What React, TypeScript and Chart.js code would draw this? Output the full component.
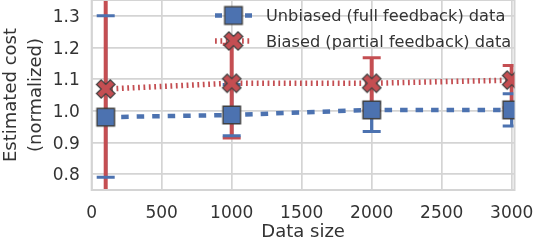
import React, { useEffect, useRef } from "react";
import { Chart, registerables } from "chart.js";

Chart.register(...registerables);

// ---- data ----
const dataSizes = [100, 1000, 2000, 3000];
const unbiasedCost = [0.98, 0.987, 1.003, 1.003];
const unbiasedLow = [0.79, 0.921, 0.935, 0.952];
const unbiasedHigh = [1.3, 1.083, 1.025, 1.054];
const biasedCost = [1.069, 1.087, 1.087, 1.097];
const biasedLow = [0.55, 0.914, 1.0, 1.01];
const biasedHigh = [1.55, 1.21, 1.168, 1.143];
const xTicks = [0, 500, 1000, 1500, 2000, 2500, 3000];
const yTicks = [0.8, 0.9, 1.0, 1.1, 1.2, 1.3];
const legendLabels = ["Unbiased (full feedback) data", "Biased (partial feedback) data"];
const xTitle = "Data size";
const yTitle = ["Estimated cost", "(normalized)"];

// ---- styles ----
const BLUE = "#4C72B0";
const RED = "#C44E52";
const EDGE = "#404040";
const GRID = "#d4d4d4";
const TEXT = "#333333";
const FONT = "'DejaVu Sans', 'Liberation Sans', Arial, sans-serif";

function makeSquare(): HTMLCanvasElement {
  const c = document.createElement("canvas");
  c.width = 24;
  c.height = 24;
  const ctx = c.getContext("2d")!;
  const s = 17.5;
  ctx.fillStyle = BLUE;
  ctx.strokeStyle = EDGE;
  ctx.lineWidth = 1.4;
  ctx.beginPath();
  ctx.rect(12 - s / 2, 12 - s / 2, s, s);
  ctx.fill();
  ctx.stroke();
  return c;
}

function makeX(): HTMLCanvasElement {
  const c = document.createElement("canvas");
  c.width = 26;
  c.height = 26;
  const ctx = c.getContext("2d")!;
  const ms = 19.5;
  const pts = [
    [-1, -3], [-1, -1], [-3, -1], [-3, 1], [-1, 1], [-1, 3],
    [1, 3], [1, 1], [3, 1], [3, -1], [1, -1], [1, -3],
  ];
  const a = Math.PI / 4;
  ctx.beginPath();
  pts.forEach(([px, py], i) => {
    const x = (px / 6) * ms;
    const y = (py / 6) * ms;
    const rx = x * Math.cos(a) - y * Math.sin(a) + 13;
    const ry = x * Math.sin(a) + y * Math.cos(a) + 13;
    if (i === 0) ctx.moveTo(rx, ry);
    else ctx.lineTo(rx, ry);
  });
  ctx.closePath();
  ctx.fillStyle = RED;
  ctx.strokeStyle = EDGE;
  ctx.lineWidth = 1.3;
  ctx.lineJoin = "miter";
  ctx.fill();
  ctx.stroke();
  return c;
}

export default function App() {
  const ref = useRef<HTMLCanvasElement | null>(null);

  useEffect(() => {
    const canvas = ref.current;
    if (!canvas) return;
    const squareImg = makeSquare();
    const xImg = makeX();

    const errorBars = {
      id: "errorBars",
      beforeDatasetsDraw(chart: any) {
        const { ctx, chartArea } = chart;
        const xs = chart.scales.x;
        const ys = chart.scales.y;
        ctx.save();
        ctx.beginPath();
        ctx.rect(chartArea.left, chartArea.top, chartArea.right - chartArea.left, chartArea.bottom - chartArea.top);
        ctx.clip();
        const vline = (i: number, lo: number[], hi: number[], color: string, w: number) => {
          const x = xs.getPixelForValue(dataSizes[i]);
          ctx.strokeStyle = color;
          ctx.lineWidth = w;
          ctx.beginPath();
          ctx.moveTo(x, ys.getPixelForValue(lo[i]));
          ctx.lineTo(x, ys.getPixelForValue(hi[i]));
          ctx.stroke();
        };
        const caps = (i: number, lo: number[], hi: number[], color: string) => {
          const x = xs.getPixelForValue(dataSizes[i]);
          ctx.strokeStyle = color;
          ctx.lineWidth = 3;
          [lo[i], hi[i]].forEach((v) => {
            const y = ys.getPixelForValue(v);
            ctx.beginPath();
            ctx.moveTo(x - 9, y);
            ctx.lineTo(x + 9, y);
            ctx.stroke();
          });
        };
        dataSizes.forEach((_, i) => vline(i, unbiasedLow, unbiasedHigh, BLUE, 3.3));
        dataSizes.forEach((_, i) => vline(i, biasedLow, biasedHigh, RED, 4));
        dataSizes.forEach((_, i) => caps(i, biasedLow, biasedHigh, RED));
        dataSizes.forEach((_, i) => caps(i, unbiasedLow, unbiasedHigh, BLUE));
        ctx.restore();

        // frame
        ctx.save();
        ctx.strokeStyle = GRID;
        ctx.lineWidth = 2;
        ctx.strokeRect(chartArea.left, chartArea.top, chartArea.right - chartArea.left, chartArea.bottom - chartArea.top);
        ctx.restore();
      },
    };

    const texts = {
      id: "texts",
      afterDraw(chart: any) {
        const { ctx, chartArea } = chart;
        const xs = chart.scales.x;
        const ys = chart.scales.y;
        ctx.save();
        ctx.fillStyle = TEXT;
        // y tick labels
        const tickSize = 17;
        ctx.font = `${tickSize}px ${FONT}`;
        ctx.textAlign = "right";
        ctx.textBaseline = "alphabetic";
        yTicks.forEach((v) => {
          const y = ys.getPixelForValue(v);
          ctx.fillText(v.toFixed(1), chartArea.left - 12, y + 0.3645 * tickSize);
        });
        // x tick labels
        ctx.textAlign = "center";
        xTicks.forEach((v) => {
          const x = xs.getPixelForValue(v);
          ctx.fillText(String(v), x, chartArea.bottom + 21.5 + 0.3645 * tickSize);
        });
        // x title
        ctx.font = `18px ${FONT}`;
        ctx.fillText(xTitle, (chartArea.left + chartArea.right) / 2, 236.7);
        // y title
        ctx.save();
        ctx.translate(0, (chartArea.top + chartArea.bottom) / 2);
        ctx.rotate(-Math.PI / 2);
        ctx.textAlign = "center";
        ctx.fillText(yTitle[0], 0, 16);
        ctx.fillText(yTitle[1], 0, 40.5);
        ctx.restore();

        // legend
        const lx0 = 215;
        const lx1 = 252;
        const mx = 233.5;
        const rows = [15.5, 41];
        ctx.save();
        ctx.strokeStyle = BLUE;
        ctx.lineWidth = 4.5;
        ctx.setLineDash([7, 8]);
        ctx.beginPath();
        ctx.moveTo(lx0, rows[0]);
        ctx.lineTo(lx1, rows[0]);
        ctx.stroke();
        ctx.strokeStyle = RED;
        ctx.lineWidth = 5.5;
        ctx.setLineDash([1.8, 3.6]);
        ctx.beginPath();
        ctx.moveTo(lx0, rows[1]);
        ctx.lineTo(lx1, rows[1]);
        ctx.stroke();
        ctx.restore();
        ctx.drawImage(squareImg, mx - squareImg.width / 2, rows[0] - squareImg.height / 2);
        ctx.drawImage(xImg, mx - xImg.width / 2, rows[1] - xImg.height / 2);
        ctx.font = `16.2px ${FONT}`;
        ctx.textAlign = "left";
        ctx.textBaseline = "alphabetic";
        ctx.fillText(legendLabels[0], 266, 20.7);
        ctx.fillText(legendLabels[1], 266, 46.7);
        ctx.restore();
      },
    };

    const chart = new Chart(canvas, {
      type: "line",
      data: {
        datasets: [
          {
            label: legendLabels[0],
            data: dataSizes.map((x, i) => ({ x, y: unbiasedCost[i] })),
            borderColor: BLUE,
            backgroundColor: BLUE,
            borderWidth: 4.5,
            borderDash: [7.5, 8],
            pointStyle: squareImg as any,
            pointRadius: 10,
            clip: 0,
            tension: 0,
          },
          {
            label: legendLabels[1],
            data: dataSizes.map((x, i) => ({ x, y: biasedCost[i] })),
            borderColor: RED,
            backgroundColor: RED,
            borderWidth: 5.5,
            borderDash: [1.8, 3.6],
            pointStyle: xImg as any,
            pointRadius: 10,
            clip: 0,
            tension: 0,
          },
        ],
      },
      options: {
        responsive: false,
        animation: false,
        devicePixelRatio: 1,
        layout: { autoPadding: false, padding: { left: 0, right: 19.5, top: 0, bottom: 0 } },
        scales: {
          x: {
            type: "linear",
            min: 0,
            max: 3020,
            afterBuildTicks: (s: any) => {
              s.ticks = xTicks.map((v) => ({ value: v }));
            },
            afterFit: (s: any) => {
              s.height = 54;
            },
            ticks: { display: false },
            grid: { color: GRID, lineWidth: 1.7, drawTicks: false },
            border: { display: false },
          },
          y: {
            type: "linear",
            min: 0.75,
            max: 1.35,
            afterBuildTicks: (s: any) => {
              s.ticks = yTicks.map((v) => ({ value: v }));
            },
            afterFit: (s: any) => {
              s.width = 91.7;
            },
            ticks: { display: false },
            grid: { color: GRID, lineWidth: 1.7, drawTicks: false },
            border: { display: false },
          },
        },
        plugins: {
          legend: { display: false },
          tooltip: { enabled: false },
        },
      },
      plugins: [errorBars, texts],
    } as any);

    return () => chart.destroy();
  }, []);

  return (
    <div style={{ position: "fixed", left: 0, top: 0, width: 534, height: 244, background: "#fff" }}>
      <canvas ref={ref} width={534} height={244} style={{ display: "block", width: 534, height: 244 }} />
    </div>
  );
}
